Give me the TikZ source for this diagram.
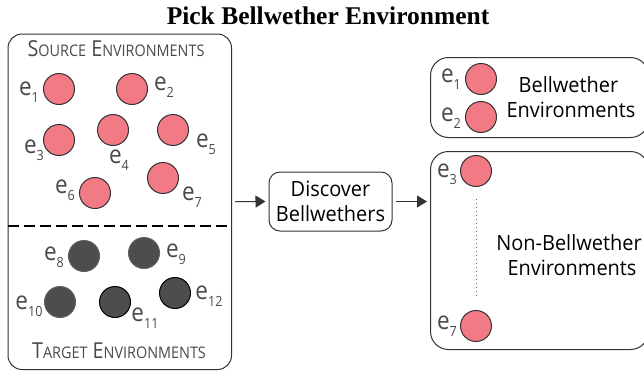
\documentclass[tikz,border=0pt]{standalone}
\usepackage{fontspec}
\setmainfont{Open Sans}
\newfontfamily\titlefont{Liberation Serif}
\newfontfamily\headfont[FakeStretch=0.9]{Open Sans}
\newfontfamily\bodyfont[FakeStretch=0.95]{Open Sans}
\usetikzlibrary{arrows.meta}
\definecolor{edgec}{HTML}{333333}
\definecolor{pinkc}{HTML}{F27A85}
\definecolor{darkc}{HTML}{4D4D4D}
\definecolor{labc}{HTML}{4A4A4A}
\tikzset{
  x=1pt,y=-1pt,
  panel/.style={draw=edgec,line width=1pt,fill=white,inner sep=0pt,anchor=north west},
  src/.style={circle,draw=edgec,line width=1pt,fill=pinkc,minimum size=31pt,inner sep=0pt},
  tgt/.style={circle,draw=darkc!90,line width=1pt,fill=darkc,minimum size=31pt,inner sep=0pt},
  tgtb/.style={tgt,draw=black},
  elab/.style={text=labc,inner sep=0pt,font=\headfont\fontsize{25}{25}\selectfont},
  head/.style={text=labc,inner sep=0pt,font=\headfont\fontsize{22}{22}\selectfont},
  body/.style={text=black,inner sep=0pt,align=center,font=\bodyfont\fontsize{21}{25.5}\selectfont},
  flow/.style={draw=edgec,line width=1pt,-{Triangle[length=10pt,width=12pt]}}
}
\newcommand{\elb}[1]{e\raisebox{-7pt}{\fontsize{14}{14}\selectfont #1}}
\newcommand{\smc}[2]{#1{\fontsize{16}{16}\selectfont #2}}
\begin{document}
\begin{tikzpicture}
\useasboundingbox (0,0) rectangle (644,370);
\node[inner sep=0pt,font=\titlefont\bfseries\fontsize{25.5}{25.5}\selectfont] (title) at (328,16) {Pick Bellwether Environment};
\node[panel,rounded corners=14pt,minimum width=223.5pt,minimum height=335.5pt] (source) at (7.5,33.5) {};
\node[panel,rounded corners=18pt,minimum width=218pt,minimum height=80pt] (bell) at (430,57) {};
\node[panel,rounded corners=18pt,minimum width=218pt,minimum height=198pt] (non) at (430,151) {};
\node[panel,rounded corners=11pt,minimum width=123pt,minimum height=59pt,anchor=center] (disc) at (330.5,201.5) {};
\node[body] (disctext) at (disc) {Discover\\Bellwethers};
\coordinate (dashl) at (7.5,226); \coordinate (dashr) at (231,226);
\draw[draw=black,line width=1.2pt,dash pattern=on 11pt off 5pt] (dashl) -- (dashr);
\node[head] (srchead) at (116,49) {\smc{S}{OURCE} \smc{E}{NVIRONMENTS}};
\node[head] (tgthead) at (119,351) {\smc{T}{ARGET} \smc{E}{NVIRONMENTS}};
\node[src] (c1) at (59,89) {};
\node[src] (c2) at (132,89) {};
\node[src] (c3) at (59,140) {};
\node[src] (c4) at (113,130) {};
\node[src] (c5) at (173,130) {};
\node[src] (c6) at (95,193) {};
\node[src] (c7) at (163,178) {};
\node[tgt] (c8) at (84,256) {};
\node[tgt] (c9) at (144,253) {};
\node[tgt] (c10) at (60,302) {};
\node[tgtb] (c11) at (115,302) {};
\node[tgtb] (c12) at (175,293) {};
\node[elab] (l1) at (29,92) {\elb{1}};
\node[elab] (l2) at (164,87) {\elb{2}};
\node[elab] (l3) at (34,150) {\elb{3}};
\node[elab] (l4) at (119,160) {\elb{4}};
\node[elab] (l5) at (206,144) {\elb{5}};
\node[elab] (l6) at (65,190) {\elb{6}};
\node[elab] (l7) at (192,197) {\elb{7}};
\node[elab] (l8) at (54,257) {\elb{8}};
\node[elab] (l9) at (176,254) {\elb{9}};
\node[elab] (l10) at (29,306) {\elb{10}};
\node[elab] (l11) at (145,318) {\elb{11}};
\node[elab] (l12) at (209,296) {\elb{12}};
\node[src] (b1) at (481,79) {};
\node[src] (b2) at (481,117) {};
\node[elab] (bl1) at (451,79) {\elb{1}};
\node[elab] (bl2) at (451,118) {\elb{2}};
\node[body] (belltext) at (571,97) {\hspace*{-5pt}Bellwether\\Environments};
\node[src] (n3) at (476,171) {};
\node[src] (n7) at (476,326) {};
\node[elab] (nl3) at (447,174) {\elb{3}};
\node[elab] (nl7) at (447,326) {\elb{7}};
\node[body] (nontext) at (569,255) {Non-Bellwether\\\hspace*{6pt}Environments};
\draw[draw=black!60,line width=1pt,dash pattern=on 1pt off 3pt,shorten >=12pt,shorten <=12pt] (n3) -- (n7);
\coordinate (a1s) at ([xshift=3pt]source.east);
\coordinate (a1e) at ([xshift=-3pt]disc.west);
\draw[flow] (a1s) -- (a1e);
\coordinate (a2s) at ([xshift=3pt]disc.east);
\coordinate (a2e) at ([xshift=-3pt]disc.east -| non.west);
\draw[flow] (a2s) -- (a2e);
\end{tikzpicture}
\end{document}
